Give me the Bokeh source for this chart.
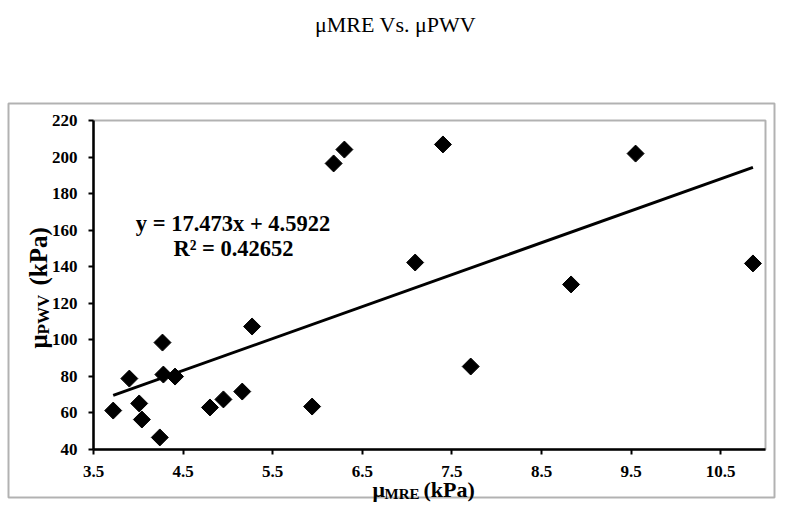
import numpy as np
from bokeh.plotting import figure
from bokeh.models import Label, BoxAnnotation, FixedTicker, Range1d
from bokeh.embed import file_html
from bokeh.resources import INLINE

# ---- data ----
mre_kpa = [3.72, 3.90, 4.01, 4.04, 4.24, 4.27, 4.28, 4.41, 4.80, 4.95, 5.16,
           5.27, 5.94, 6.18, 6.30, 7.09, 7.40, 7.71, 8.83, 9.55, 10.86]
pwv_kpa = [61.3, 78.8, 65.2, 56.4, 46.6, 98.5, 81.0, 79.9, 63.0, 67.4, 71.7,
           107.3, 63.5, 196.5, 204.1, 142.3, 206.9, 85.4, 130.3, 201.9, 141.8]
x_ticks = [3.5, 4.5, 5.5, 6.5, 7.5, 8.5, 9.5, 10.5]
y_ticks = [40, 60, 80, 100, 120, 140, 160, 180, 200, 220]
slope = 17.473
intercept = 4.5922
r_squared = 0.42652
title_text = "μMRE Vs. μPWV"

# ---- layout constants (canvas pixels) ----
W, H = 784, 507
# inner plot area (where the data axes live)
IL, IR, IT, IB = 93, 765, 120, 449
X0, X1 = 3.5, 11.0
Y0, Y1 = 40, 220
# outer box
OL, OR, OT, OB = 8, 774, 103, 497
FONT = "Liberation Serif"


def cx(px):
    return X0 + (px - IL) * (X1 - X0) / (IR - IL)


def cy(py):
    return Y0 + (IB - py) * (Y1 - Y0) / (IB - IT)


# the frame covers the whole canvas; the inner axes sit at fixed locations
p = figure(frame_width=W, frame_height=H,
           x_range=Range1d(cx(0), cx(W)), y_range=Range1d(cy(H), cy(0)),
           output_backend="svg", toolbar_location=None, min_border=0,
           min_border_left=0, min_border_right=0,
           min_border_top=0, min_border_bottom=0)
p.title.visible = False
p.background_fill_color = "white"
p.border_fill_color = "white"
p.grid.visible = False
p.outline_line_color = None

p.xaxis.ticker = FixedTicker(ticks=x_ticks)
p.yaxis.ticker = FixedTicker(ticks=y_ticks)
p.xaxis.fixed_location = Y0
p.yaxis.fixed_location = X0
p.xaxis.bounds = (X0, X1)
p.yaxis.bounds = (Y0, Y1)
for ax in (p.xaxis, p.yaxis):
    ax.axis_line_color = "black"
    ax.axis_line_width = 2.5
    ax.major_tick_line_color = "black"
    ax.major_tick_line_width = 2
    ax.major_tick_in = 0
    ax.major_tick_out = 5
    ax.minor_tick_line_color = None
    ax.major_label_text_font = FONT
    ax.major_label_text_font_style = "bold"
    ax.major_label_text_font_size = "17px"
    ax.major_label_text_color = "black"
p.xaxis.major_label_standoff = 11
p.yaxis.major_label_standoff = 11

# outer box around the chart
p.add_layout(BoxAnnotation(left=cx(OL), right=cx(OR), bottom=cy(OB), top=cy(OT),
                           fill_color=None, line_color="black", line_width=2,
                           level="underlay"))
# inner plot box (top and right edges)
p.add_layout(BoxAnnotation(left=X0, right=X1, bottom=Y0, top=Y1,
                           fill_color=None, line_color="black", line_width=2,
                           level="underlay"))

# trend line
tx = np.array([min(mre_kpa), max(mre_kpa)])
ty = slope * tx + intercept
p.line(tx, ty, line_color="black", line_width=3)

# data points (diamonds)
p.scatter(mre_kpa, pwv_kpa, marker="square", size=12, angle=45, angle_units="deg",
          fill_color="black", line_color="black")


def lab(x, y, t, size, angle=0.0, style="bold", align="left", baseline="alphabetic"):
    p.add_layout(Label(x=cx(x), y=cy(y), text=t,
                       text_align=align, text_baseline=baseline, text_font=FONT,
                       text_font_style=style, text_font_size=size,
                       text_color="black", angle=angle))


# title
lab(395, 24, title_text, "22px", style="normal", align="center", baseline="middle")

# equation
lab(232.5, 223, f"y = {slope}x + {intercept}", "22.5px", align="center", baseline="middle")
lab(233, 248, f"R² = {r_squared}", "22.5px", align="center", baseline="middle")

# x axis label: mu_MRE (kPa)
lab(372, 489, "μ", "22px")
lab(384, 493, "MRE", "15px")
lab(423, 489, "(kPa)", "22px")

# y axis label: mu_PWV (kPa), rotated
a = np.pi / 2
lab(38, 348, "μ", "25px", a)
lab(43, 334, "PWV", "17px", a)
lab(38, 285, "(kPa)", "25px", a)

open("out.html", "w").write(file_html(p, INLINE))
